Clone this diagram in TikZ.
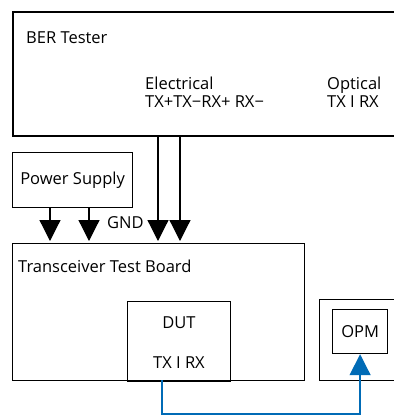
\documentclass[tikz,border=0pt]{standalone}
\usepackage{fontspec}
\setmainfont{Open Sans}
\usetikzlibrary{positioning, arrows.meta}
\definecolor{fibre}{RGB}{0,107,182}

\begin{document}
\begin{tikzpicture}[x=1pt, y=-1pt, font=\fontsize{16.5}{19}\selectfont,
  box/.style={draw, line width=1.2pt, rectangle, inner sep=0pt},
  lbl/.style={anchor=base west, inner sep=0pt},
  feed/.style={line width=1.2pt, -{Triangle[width=21pt,length=21pt]}},
  optic/.style={fibre, line width=1.3pt, -{Triangle[width=21pt,length=21pt]}}]
            \useasboundingbox (0,0) rectangle (394,416);

            % boxes
            \node[box, line width=1.6pt, minimum width=392pt, minimum height=124pt, anchor=north west] (ber) at (12,11) {};
            \node[box, minimum width=120pt, minimum height=55pt, anchor=north west] (ps) at (12,152) {Power Supply};
            \node[box, minimum width=292pt, minimum height=137pt, anchor=north west] (board) at (12,243) {};
            \node[box, minimum width=103pt, minimum height=79pt, anchor=north west] (dut) at (127,301) {};
            \node[box, minimum width=85pt, minimum height=81pt, anchor=north west] (meter) at (319,299) {};
            \node[box, minimum width=55pt, minimum height=44pt, anchor=north west] (opm) at (332,309) {OPM};

            % texts
            \node[lbl] (bername) at (26,43) {BER Tester};
            \node[lbl] (elec) at (145,89) {Electrical};
            \node[lbl] (elecpins) at (145,107) {TX+TX\textminus RX+ RX\textminus};
            \node[lbl] (opt) at (327,89) {Optical};
            \node[lbl] (optpins) at (327,107) {TX I RX};
            \node[lbl] (gnd) at (107,228) {GND};
            \node[lbl] (boardname) at (18,272) {Transceiver Test Board};
            \node[anchor=base, inner sep=0pt] (dutname) at (179,328) {DUT};
            \node[anchor=base, inner sep=0pt] (dutpins) at (179,368) {TX I RX};

            % inputs on the board
            \coordinate (p1) at (50,241);
            \coordinate (p2) at (89,241);
            \coordinate (e1) at (158,241);
            \coordinate (e2) at (180,241);
            \coordinate (tx) at (162,380);

            % Draw edges
            \draw[feed] (ps.south -| p1) -- (p1);
            \draw[feed] (ps.south -| p2) -- (p2);
            \draw[feed] (ber.south -| e1) -- (e1);
            \draw[feed] (ber.south -| e2) -- (e2);
            \draw[line width=2pt] (dut.south west) -- (dut.south east);
            \draw[optic] (tx) -- ++(0,34) -| (opm.south);
        \end{tikzpicture}
\end{document}
